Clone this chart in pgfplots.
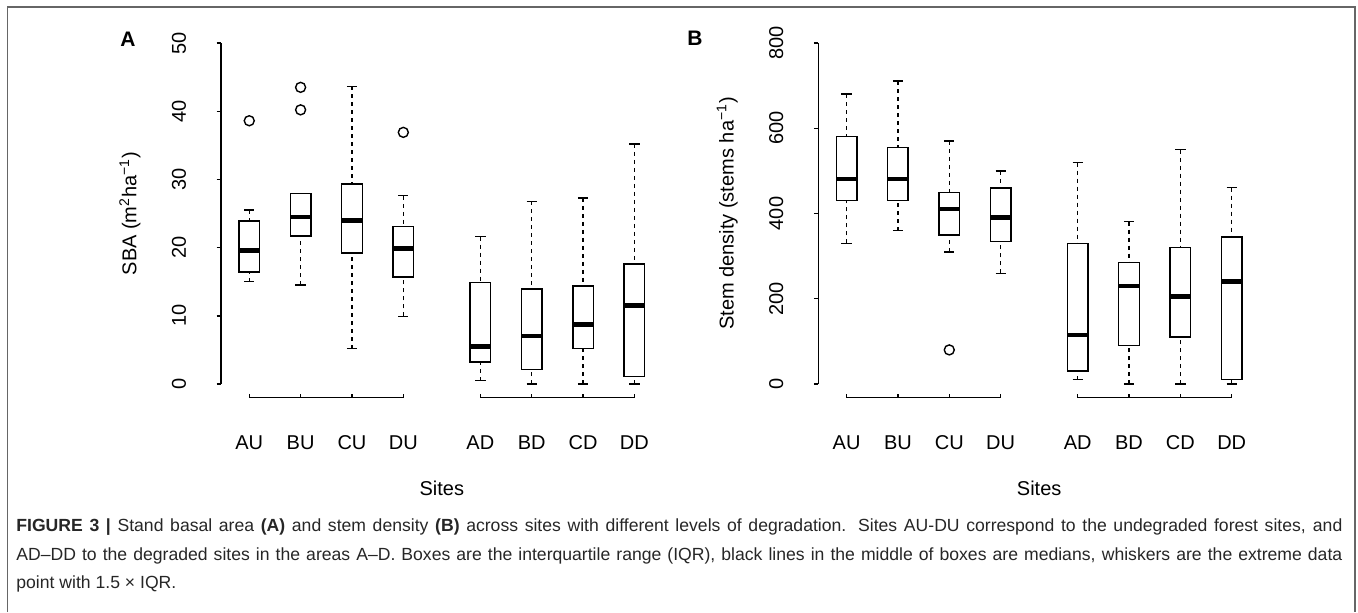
\documentclass[border=0pt]{standalone}
\usepackage{fontspec}
\setmainfont{Liberation Sans}
\usepackage{pgfplots}
\pgfplotsset{compat=1.18}

\newcommand\plotfont{\fontsize{10}{12}\selectfont}
\newcommand\capfont{\fontsize{8.8}{14}\selectfont}

\pgfplotsset{
  panel/.style={
    scale only axis, width=219.55pt, height=170.5pt, anchor=south west,
    xmin=0.45, xmax=9, ymin=0, clip=false, unbounded coords=jump,
    axis y line*=left, axis x line*=bottom, x axis line style={draw=none},
    axis line style={line width=0.7pt},
    xtick={1,2,3,4,5.5,6.5,7.5,8.5}, xticklabels={AU,BU,CU,DU,AD,BD,CD,DD},
    xtick style={draw=none}, ytick style={line width=0.7pt, black},
    tick align=outside, major tick length=2.25pt,
    /pgf/number format/assume math mode=true,
    tick label style={font=\plotfont},
    xticklabel style={anchor=base, yshift=-30.25pt},
    yticklabel style={rotate=90, anchor=center, yshift=18.8pt},
    xlabel={Sites}, label style={font=\plotfont},
    xlabel style={at={(axis description cs:0.5029,0)}, anchor=base, yshift=-55.75pt},
    ylabel style={at={(axis description cs:0,0.5)}, anchor=center, yshift=45.5pt},
  },
  box/.style={black, line width=0.7pt, line join=miter, line cap=rect},
  whisk/.style={black, line width=0.7pt, dash pattern=on 2pt off 2pt},
  cap/.style={black, line width=0.7pt},
  med/.style={black, line width=2.2pt},
  outl/.style={black, only marks, mark=o, mark size=2.5pt, mark options={line width=0.7pt}},
}

\begin{document}
\begin{tikzpicture}
\path[use as bounding box] (0,0) rectangle (679pt,-306pt);
\draw[line width=0.8pt, black!60] (3.8pt,-306pt) -- (3.8pt,-3.6pt) -- (677.6pt,-3.6pt) -- (677.6pt,-306pt);

% panel A: stand basal area
\begin{axis}[panel, at={(110.5pt,-192pt)}, ymax=50, ytick={0,10,...,50},
  ylabel={SBA (m\textsuperscript{2}ha\textsuperscript{−1})}]
% whiskers
\addplot[whisk] coordinates {(1,15.0)(1,16.4)(1,nan)(1,25.5)(1,23.9)(1,nan)
  (2,14.5)(2,21.7)(2,nan)
  (3,5.2)(3,19.2)(3,nan)(3,43.65)(3,29.35)(3,nan)
  (4,9.9)(4,15.7)(4,nan)(4,27.6)(4,23.1)(4,nan)
  (5.5,0.5)(5.5,3.2)(5.5,nan)(5.5,21.6)(5.5,14.9)(5.5,nan)
  (6.5,0)(6.5,2.1)(6.5,nan)(6.5,26.8)(6.5,13.95)(6.5,nan)
  (7.5,0)(7.5,5.2)(7.5,nan)(7.5,27.3)(7.5,14.4)(7.5,nan)
  (8.5,0)(8.5,1.1)(8.5,nan)(8.5,35.2)(8.5,17.6)};
% whisker caps
\addplot[cap] coordinates {(0.9,15.0)(1.1,15.0)(1,nan)(0.9,25.5)(1.1,25.5)(1,nan)
  (1.9,14.5)(2.1,14.5)(2,nan)(1.9,27.95)(2.1,27.95)(2,nan)
  (2.9,5.2)(3.1,5.2)(3,nan)(2.9,43.65)(3.1,43.65)(3,nan)
  (3.9,9.9)(4.1,9.9)(4,nan)(3.9,27.6)(4.1,27.6)(4,nan)
  (5.4,0.5)(5.6,0.5)(5.5,nan)(5.4,21.6)(5.6,21.6)(5.5,nan)
  (6.4,0)(6.6,0)(6.5,nan)(6.4,26.8)(6.6,26.8)(6.5,nan)
  (7.4,0)(7.6,0)(7.5,nan)(7.4,27.3)(7.6,27.3)(7.5,nan)
  (8.4,0)(8.6,0)(8.5,nan)(8.4,35.2)(8.6,35.2)};
% boxes (interquartile range)
\addplot[box] coordinates {(0.8,16.4)(1.2,16.4)(1.2,23.9)(0.8,23.9)(0.8,16.4)(1,nan)
  (1.8,21.7)(2.2,21.7)(2.2,27.95)(1.8,27.95)(1.8,21.7)(2,nan)
  (2.8,19.2)(3.2,19.2)(3.2,29.35)(2.8,29.35)(2.8,19.2)(3,nan)
  (3.8,15.7)(4.2,15.7)(4.2,23.1)(3.8,23.1)(3.8,15.7)(4,nan)
  (5.3,3.2)(5.7,3.2)(5.7,14.9)(5.3,14.9)(5.3,3.2)(5.5,nan)
  (6.3,2.1)(6.7,2.1)(6.7,13.95)(6.3,13.95)(6.3,2.1)(6.5,nan)
  (7.3,5.2)(7.7,5.2)(7.7,14.4)(7.3,14.4)(7.3,5.2)(7.5,nan)
  (8.3,1.1)(8.7,1.1)(8.7,17.6)(8.3,17.6)(8.3,1.1)};
% medians
\addplot[med] coordinates {(0.8,19.6)(1.2,19.6)(1,nan)(1.8,24.5)(2.2,24.5)(2,nan)
  (2.8,24.0)(3.2,24.0)(3,nan)(3.8,19.85)(4.2,19.85)(4,nan)
  (5.3,5.5)(5.7,5.5)(5.5,nan)(6.3,7.0)(6.7,7.0)(6.5,nan)
  (7.3,8.7)(7.7,8.7)(7.5,nan)(8.3,11.5)(8.7,11.5)};
% outliers
\addplot[outl] coordinates {(1,38.6)(2,43.5)(2,40.2)(4,36.9)};
\draw[line width=0.7pt] (axis cs:1,-1.45) -- (axis cs:1,-2) -- (axis cs:4,-2) -- (axis cs:4,-1.45)
  (axis cs:2,-2) -- (axis cs:2,-1.45) (axis cs:3,-2) -- (axis cs:3,-1.45);
\draw[line width=0.7pt] (axis cs:5.5,-1.45) -- (axis cs:5.5,-2) -- (axis cs:8.5,-2) -- (axis cs:8.5,-1.45)
  (axis cs:6.5,-2) -- (axis cs:6.5,-1.45) (axis cs:7.5,-2) -- (axis cs:7.5,-1.45);
\end{axis}

% panel B: stem density
\begin{axis}[panel, at={(409.15pt,-192pt)}, ymax=800, ytick={0,200,...,800},
  ylabel={Stem density (stems ha\textsuperscript{−1})}]
\addplot[whisk] coordinates {(1,330)(1,430)(1,nan)(1,680)(1,580.5)(1,nan)
  (2,360)(2,430)(2,nan)(2,710.5)(2,555.5)(2,nan)
  (3,309.5)(3,350)(3,nan)(3,570.5)(3,450)(3,nan)
  (4,259.5)(4,335)(4,nan)(4,500)(4,460)(4,nan)
  (5.5,10)(5.5,30.5)(5.5,nan)(5.5,519.5)(5.5,330)(5.5,nan)
  (6.5,0)(6.5,90)(6.5,nan)(6.5,381)(6.5,285.5)(6.5,nan)
  (7.5,0)(7.5,110)(7.5,nan)(7.5,550)(7.5,320)(7.5,nan)
  (8.5,0)(8.5,10)(8.5,nan)(8.5,460.5)(8.5,345)};
\addplot[cap] coordinates {(0.9,330)(1.1,330)(1,nan)(0.9,680)(1.1,680)(1,nan)
  (1.9,360)(2.1,360)(2,nan)(1.9,710.5)(2.1,710.5)(2,nan)
  (2.9,309.5)(3.1,309.5)(3,nan)(2.9,570.5)(3.1,570.5)(3,nan)
  (3.9,259.5)(4.1,259.5)(4,nan)(3.9,500)(4.1,500)(4,nan)
  (5.4,10)(5.6,10)(5.5,nan)(5.4,519.5)(5.6,519.5)(5.5,nan)
  (6.4,0)(6.6,0)(6.5,nan)(6.4,381)(6.6,381)(6.5,nan)
  (7.4,0)(7.6,0)(7.5,nan)(7.4,550)(7.6,550)(7.5,nan)
  (8.4,0)(8.6,0)(8.5,nan)(8.4,460.5)(8.6,460.5)};
\addplot[box] coordinates {(0.8,430)(1.2,430)(1.2,580.5)(0.8,580.5)(0.8,430)(1,nan)
  (1.8,430)(2.2,430)(2.2,555.5)(1.8,555.5)(1.8,430)(2,nan)
  (2.8,350)(3.2,350)(3.2,450)(2.8,450)(2.8,350)(3,nan)
  (3.8,335)(4.2,335)(4.2,460)(3.8,460)(3.8,335)(4,nan)
  (5.3,30.5)(5.7,30.5)(5.7,330)(5.3,330)(5.3,30.5)(5.5,nan)
  (6.3,90)(6.7,90)(6.7,285.5)(6.3,285.5)(6.3,90)(6.5,nan)
  (7.3,110)(7.7,110)(7.7,320)(7.3,320)(7.3,110)(7.5,nan)
  (8.3,10)(8.7,10)(8.7,345)(8.3,345)(8.3,10)};
\addplot[med] coordinates {(0.8,480.5)(1.2,480.5)(1,nan)(1.8,480.5)(2.2,480.5)(2,nan)
  (2.8,410.5)(3.2,410.5)(3,nan)(3.8,390.5)(4.2,390.5)(4,nan)
  (5.3,115)(5.7,115)(5.5,nan)(6.3,230)(6.7,230)(6.5,nan)
  (7.3,205)(7.7,205)(7.5,nan)(8.3,240.5)(8.7,240.5)};
\addplot[outl] coordinates {(3,80)};
\draw[line width=0.7pt] (axis cs:1,-23.5) -- (axis cs:1,-32) -- (axis cs:4,-32) -- (axis cs:4,-23.5)
  (axis cs:2,-32) -- (axis cs:2,-23.5) (axis cs:3,-32) -- (axis cs:3,-23.5);
\draw[line width=0.7pt] (axis cs:5.5,-23.5) -- (axis cs:5.5,-32) -- (axis cs:8.5,-32) -- (axis cs:8.5,-23.5)
  (axis cs:6.5,-32) -- (axis cs:6.5,-23.5) (axis cs:7.5,-32) -- (axis cs:7.5,-23.5);
\end{axis}

\node[font=\fontsize{10.5}{12}\selectfont\bfseries, anchor=center] at (64pt,-19.75pt) {A};
\node[font=\fontsize{10.5}{12}\selectfont\bfseries, anchor=center] at (347.5pt,-19.35pt) {B};

\begin{scope}[every node/.style={anchor=base west, inner sep=0pt, text=black!85, font=\capfont}]
\node at (8pt,-265.5pt) {\makebox[663pt][s]{\textbf{FIGURE 3 |} Stand basal area \textbf{(A)} and stem density \textbf{(B)} across sites with different levels of degradation. Sites AU-DU correspond to the undegraded forest sites, and}};
\node at (8pt,-280pt) {\makebox[663pt][s]{AD–DD to the degraded sites in the areas A–D. Boxes are the interquartile range (IQR), black lines in the middle of boxes are medians, whiskers are the extreme data}};
\node at (8pt,-294pt) {point with 1.5 × IQR.};
\end{scope}
\end{tikzpicture}
\end{document}
